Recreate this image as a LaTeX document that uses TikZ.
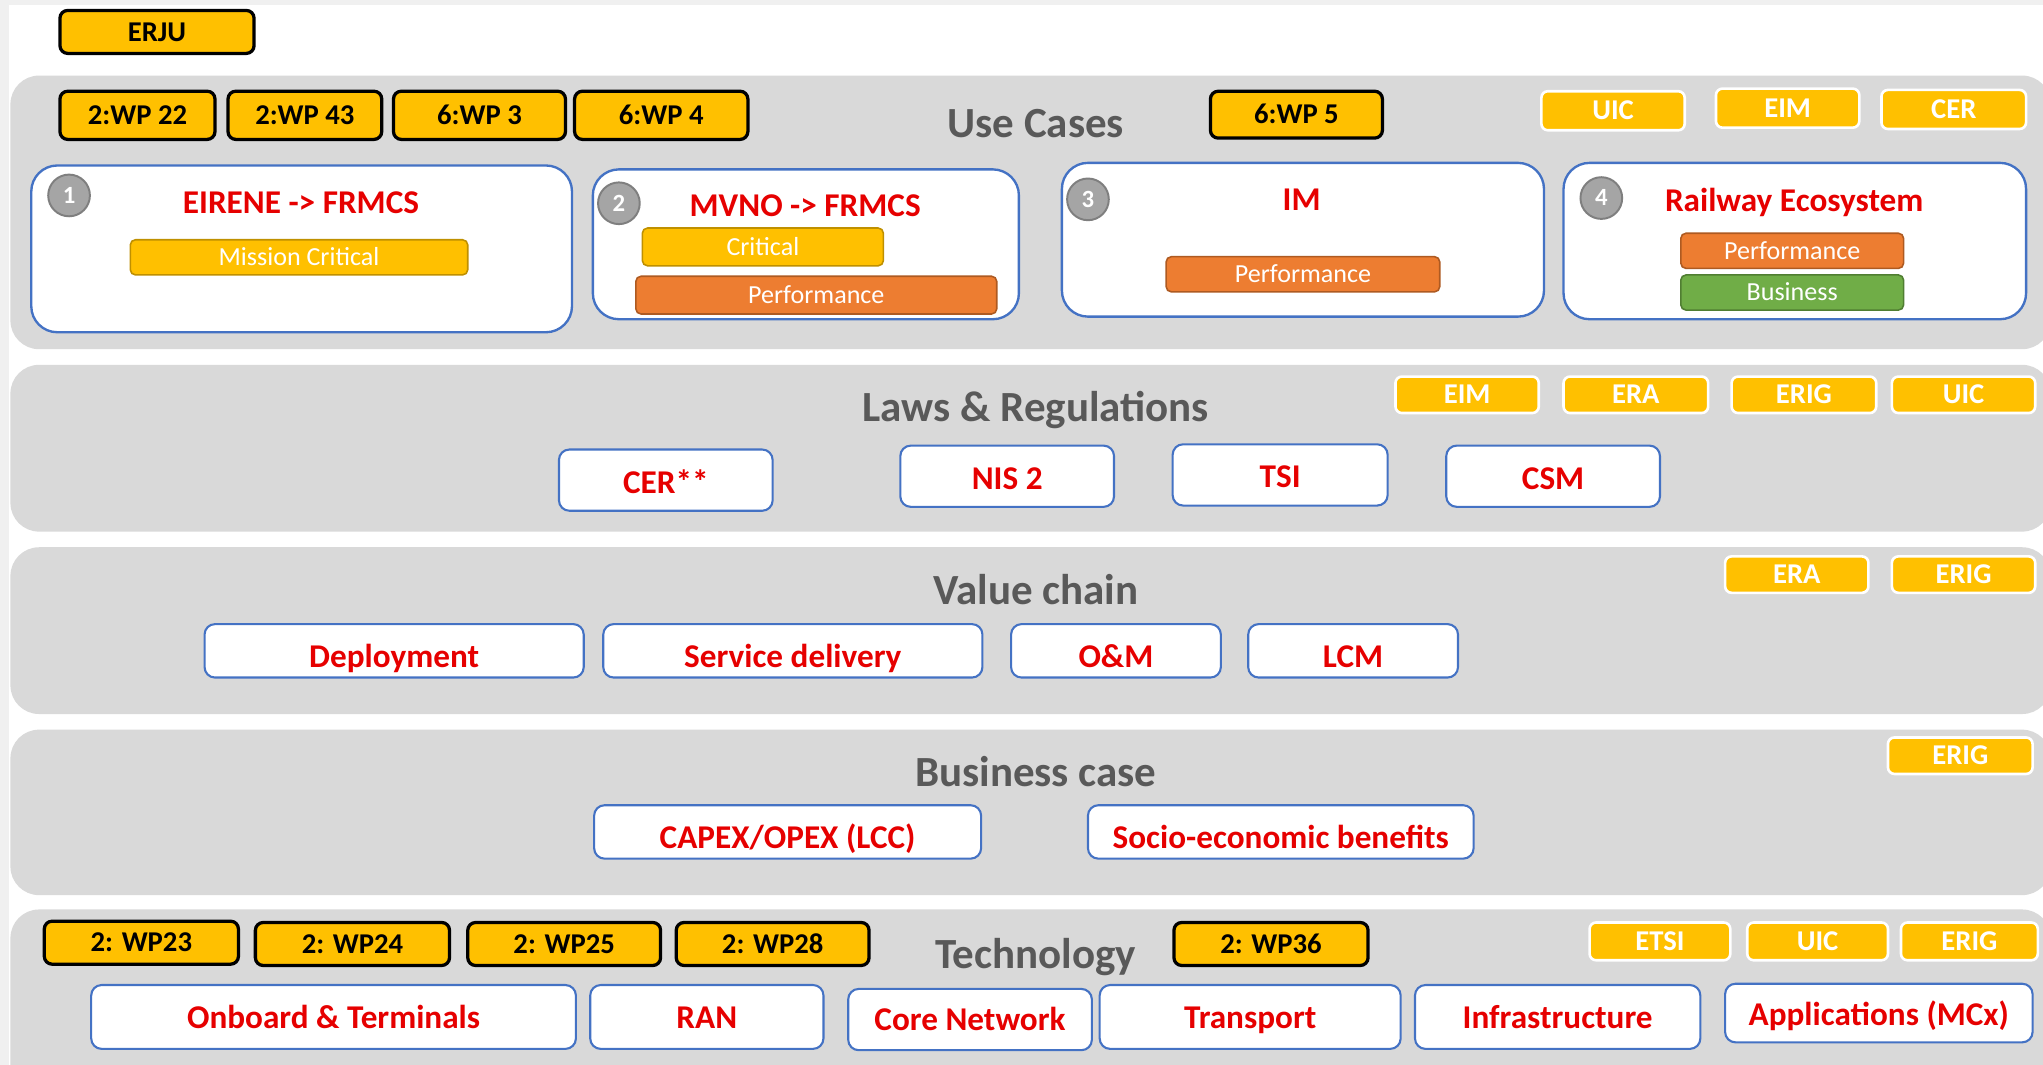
\documentclass[tikz,border=0pt]{standalone}
\usepackage{fontspec}
\setmainfont{Carlito}
\definecolor{panelgray}{HTML}{D9D9D9}
\definecolor{titlegray}{HTML}{595959}
\definecolor{gold}{HTML}{FFC000}
\definecolor{goldedge}{HTML}{BF9000}
\definecolor{orng}{HTML}{ED7D31}
\definecolor{orngedge}{HTML}{AE5A21}
\definecolor{grn}{HTML}{70AD47}
\definecolor{grnedge}{HTML}{507E32}
\definecolor{blueedge}{HTML}{4472C4}
\definecolor{redtxt}{HTML}{E60000}
\definecolor{circfill}{HTML}{A5A5A5}
\definecolor{circedge}{HTML}{7F7F7F}
\definecolor{pageedge}{HTML}{F0F0F0}
\newcommand\bx[7]{%
  \pgfmathsetmacro\cxA{(#3+#5)/2}\pgfmathsetmacro\cyA{(#4+#6)/2}%
  \pgfmathsetmacro\wA{#5-#3}\pgfmathsetmacro\hA{#6-#4}%
  \node[#2, minimum width=\wA pt, minimum height=\hA pt] (#1) at (\cxA,\cyA) {#7};}
\tikzset{
  panel/.style={fill=panelgray, rounded corners=22pt, inner sep=0pt, outer sep=0pt},
  ptitle/.style={text=titlegray, font=\fontsize{33}{36}\selectfont\bfseries, inner sep=0pt, text height=23.8pt, text depth=2.6pt},
  wp/.style={fill=gold, draw=black, line width=2.5pt, rounded corners=6pt, font=\fontsize{22}{24}\selectfont\bfseries, text=black, inner sep=0pt, text height=15.8pt, text depth=1.8pt},
  tag/.style={fill=gold, draw=white, line width=2pt, rounded corners=5pt, font=\fontsize{22}{24}\selectfont\bfseries, text=white, inner sep=0pt, text height=15.8pt, text depth=1.8pt},
  ucbox/.style={fill=white, draw=blueedge, line width=1.8pt, rounded corners=20pt, inner sep=0pt},
  item/.style={fill=white, draw=blueedge, line width=1.6pt, rounded corners=8pt, font=\fontsize{25.5}{28}\selectfont\bfseries, text=redtxt, inner sep=0pt, text height=18.4pt, text depth=2pt},
  lowitem/.style={item, text height=27.4pt},
  lawitem/.style={item, text height=22pt},
  bar/.style={rounded corners=4pt, line width=1.2pt, font=\fontsize{20}{22}\selectfont, text=white, inner sep=0pt, text height=14.4pt, text depth=1.6pt},
  ybar/.style={bar, fill=gold, draw=goldedge},
  obar/.style={bar, fill=orng, draw=orngedge},
  gbar/.style={bar, fill=grn, draw=grnedge},
  num/.style={circle, fill=circfill, draw=circedge, line width=1.5pt, minimum size=32pt, inner sep=0pt, text=white, font=\fontsize{19}{20}\selectfont\bfseries, text height=13.6pt, text depth=1.4pt},
  uctitle/.style={text=redtxt, font=\fontsize{25.5}{28}\selectfont\bfseries, inner sep=0pt, text height=18.4pt, text depth=2pt}
}
\begin{document}
\begin{tikzpicture}[x=1pt, y=-1pt]
\useasboundingbox (0,0) rectangle (1568,817);
\clip (0,0) rectangle (1568,817);
\fill[pageedge] (0,0) rectangle (1568,817);
\fill[white] (7,4) rectangle (1568,817);

% panels
\bx{pUC}{panel}{8}{58}{1574}{268}{}
\bx{pLR}{panel}{8}{280}{1574}{408}{}
\bx{pVC}{panel}{8}{420}{1574}{548}{}
\bx{pBC}{panel}{8}{560}{1574}{687}{}
\bx{pTE}{panel}{8}{698}{1574}{850}{}

\node[ptitle] (tUC) at (795,95) {Use Cases};
\node[ptitle] (tLR) at (795,313) {Laws \& Regulations};
\node[ptitle] (tVC) at (795,453) {Value chain};
\node[ptitle] (tBC) at (795,593) {Business case};
\node[ptitle] (tTE) at (795,733) {Technology};

% top
\bx{erju}{wp}{46}{8}{195}{41}{ERJU}
\bx{wp22}{wp}{46}{70}{165}{107}{2:WP 22}
\bx{wp43}{wp}{175}{70}{293}{107}{2:WP 43}
\bx{wp3}{wp}{302}{70}{434}{107}{6:WP 3}
\bx{wp4}{wp}{441}{70}{574}{107}{6:WP 4}
\bx{wp5}{wp}{929}{70}{1061}{106}{6:WP 5}
\bx{ucUIC}{tag}{1183}{70}{1293}{100}{UIC}
\bx{ucEIM}{tag}{1317}{68}{1427}{98}{EIM}
\bx{ucCER}{tag}{1444}{69}{1555}{99}{CER}

% use cases
\bx{uc1}{ucbox}{24}{127}{439}{255}{}
\node[num] (n1) at (53,150) {1};
\node[uctitle] (h1) at (231,156) {EIRENE -> FRMCS};
\bx{b1}{ybar}{100}{184}{359}{211}{Mission Critical}

\bx{uc2}{ucbox}{455}{130}{782}{245}{}
\node[num] (n2) at (475,156) {2};
\node[uctitle] (h2) at (618,158) {MVNO -> FRMCS};
\bx{b2a}{ybar}{493}{175}{678}{204}{Critical}
\bx{b2b}{obar}{488}{212}{765}{241}{Performance}

\bx{uc3}{ucbox}{815}{125}{1185}{243}{}
\node[num] (n3) at (835,153) {3};
\node[uctitle] (h3) at (999,153) {IM};
\bx{b3}{obar}{895}{197}{1105}{224}{Performance}

\bx{uc4}{ucbox}{1200}{125}{1555}{245}{}
\node[num] (n4) at (1229,152) {4};
\node[uctitle] (h4) at (1377,154) {Railway Ecosystem};
\bx{b4a}{obar}{1290}{179}{1461}{206}{Performance}
\bx{b4b}{gbar}{1290}{211}{1461}{238}{Business}

% laws & regulations
\bx{cer}{lawitem}{429}{345}{593}{392}{CER**}
\bx{nis}{lawitem}{691}{342}{855}{389}{NIS 2}
\bx{tsi}{lawitem}{900}{341}{1065}{388}{TSI}
\bx{csm}{lawitem}{1110}{342}{1274}{389}{CSM}
\bx{lrEIM}{tag}{1071}{289}{1181}{317}{EIM}
\bx{lrERA}{tag}{1200}{289}{1311}{317}{ERA}
\bx{lrERIG}{tag}{1329}{289}{1440}{317}{ERIG}
\bx{lrUIC}{tag}{1452}{289}{1562}{317}{UIC}

% value chain
\bx{dep}{lowitem}{157}{479}{448}{520}{Deployment}
\bx{srv}{lowitem}{463}{479}{754}{520}{Service delivery}
\bx{om}{lowitem}{776}{479}{937}{520}{O\&M}
\bx{lcm}{lowitem}{958}{479}{1119}{520}{LCM}
\bx{vcERA}{tag}{1324}{427}{1434}{455}{ERA}
\bx{vcERIG}{tag}{1452}{427}{1562}{455}{ERIG}

% business case
\bx{capex}{lowitem}{456}{618}{753}{659}{CAPEX/OPEX (LCC)}
\bx{socio}{lowitem}{835}{618}{1131}{659}{Socio-economic benefits}
\bx{bcERIG}{tag}{1449}{566}{1560}{594}{ERIG}

% technology
\bx{wp23}{wp}{34}{707}{183}{740}{2: WP23}
\bx{wp24}{wp}{196}{708}{345}{741}{2: WP24}
\bx{wp25}{wp}{359}{708}{507}{741}{2: WP25}
\bx{wp28}{wp}{519}{708}{667}{741}{2: WP28}
\bx{wp36}{wp}{901}{708}{1050}{741}{2: WP36}
\bx{teETSI}{tag}{1220}{708}{1328}{737}{ETSI}
\bx{teUIC}{tag}{1341}{708}{1449}{737}{UIC}
\bx{teERIG}{tag}{1459}{708}{1564}{737}{ERIG}
\bx{onb}{item, text height=20pt}{70}{756}{442}{805}{Onboard \& Terminals}
\bx{ran}{item, text height=20pt}{453}{756}{632}{805}{RAN}
\bx{core}{item}{651}{759}{838}{806}{Core Network}
\bx{trans}{item, text height=20pt}{844}{756}{1075}{805}{Transport}
\bx{infra}{item, text height=20pt}{1086}{756}{1305}{805}{Infrastructure}
\bx{apps}{item, text height=21pt}{1324}{755}{1560}{800}{Applications (MCx)}
\end{tikzpicture}
\end{document}
